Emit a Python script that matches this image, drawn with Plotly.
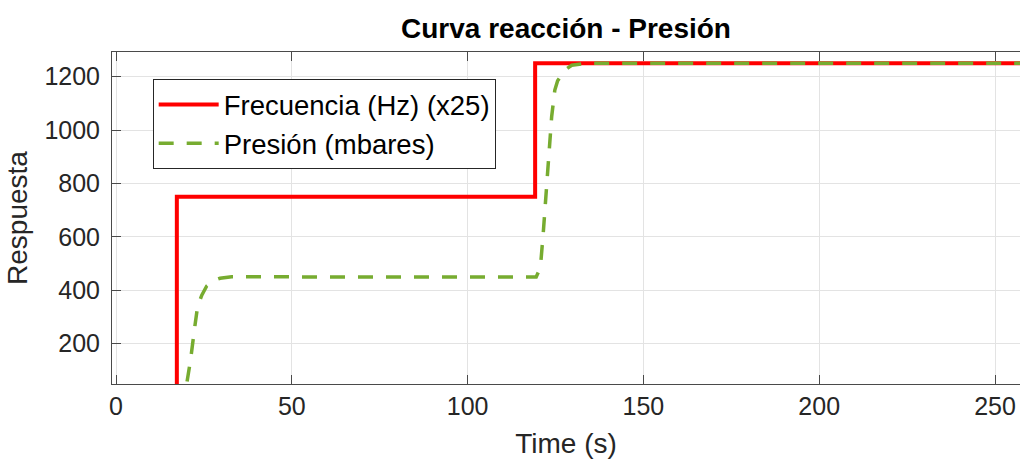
import plotly.graph_objects as go

# Frecuencia (Hz) (x25)
t_freq = [0, 17.3, 17.3, 119.2, 119.2, 262]
v_freq = [0, 0, 750, 750, 1250, 1250]

# Presión (mbares)
t_pres = [0, 19.4, 20.1, 21.2, 22.4, 23.2, 24.4, 25.8, 27.5, 29.6, 32.9, 40, 60, 80, 100, 119.5,
          120.2, 120.8, 121.5, 122.5, 123.2, 123.9, 124.8, 125.6, 126.7, 128.0, 129.6, 133.9, 150, 200, 262]
v_pres = [0, 0, 49, 139, 263, 339, 382, 416, 435, 445, 451, 450, 450, 450, 450, 450,
          470, 501, 613, 800, 938, 1050, 1150, 1185, 1206, 1228, 1243, 1250, 1250, 1250, 1250]

x_ticks = [0, 50, 100, 150, 200, 250]
y_ticks = [200, 400, 600, 800, 1000, 1200]

FONT = "Liberation Sans, Arial, Helvetica, sans-serif"
AX = "#4a4a4a"

fig = go.Figure()
fig.add_trace(go.Scatter(x=t_freq, y=v_freq, mode="lines", name="Frecuencia (Hz) (x25)",
                         line=dict(color="#ff0000", width=4)))
fig.add_trace(go.Scatter(x=t_pres, y=v_pres, mode="lines", name="Presión (mbares)",
                         line=dict(color="#77ac30", width=3.5, dash="15px,13px")))

fig.update_layout(
    width=1020, height=463,
    margin=dict(l=112, r=0, t=52, b=79),
    paper_bgcolor="white", plot_bgcolor="white",
    font=dict(family=FONT, size=25, color="#262626"),
    title=dict(text="<b>Curva reacción - Presión</b>", x=566/1020, xanchor="center",
               y=1 - 28/463, yanchor="middle", font=dict(size=28, color="#000000")),
    showlegend=True,
    legend=dict(x=0.0448, y=0.918, xanchor="left", yanchor="top",
                bgcolor="white", bordercolor="#262626", borderwidth=1,
                font=dict(size=27.5, color="#000000"), itemwidth=60,
                tracegroupgap=0),
)
fig.update_xaxes(range=[-1.14, 257.1], tickvals=x_ticks, ticks="inside", ticklen=9,
                 tickcolor=AX, showline=True, linecolor=AX, linewidth=1, mirror="ticks",
                 showgrid=True, gridcolor="#e3e3e3", gridwidth=1, zeroline=False,
                 title=dict(text="Time (s)", font=dict(size=28, color="#262626"), standoff=14))
fig.update_yaxes(range=[49.1, 1292.5], tickvals=y_ticks, ticks="inside", ticklen=9,
                 tickcolor=AX, showline=True, linecolor=AX, linewidth=1, mirror=False,
                 ticklabelstandoff=6,
                 showgrid=True, gridcolor="#e3e3e3", gridwidth=1, zeroline=False,
                 title=dict(text="Respuesta", font=dict(size=28, color="#262626"), standoff=8))

fig.write_html("out.html")
